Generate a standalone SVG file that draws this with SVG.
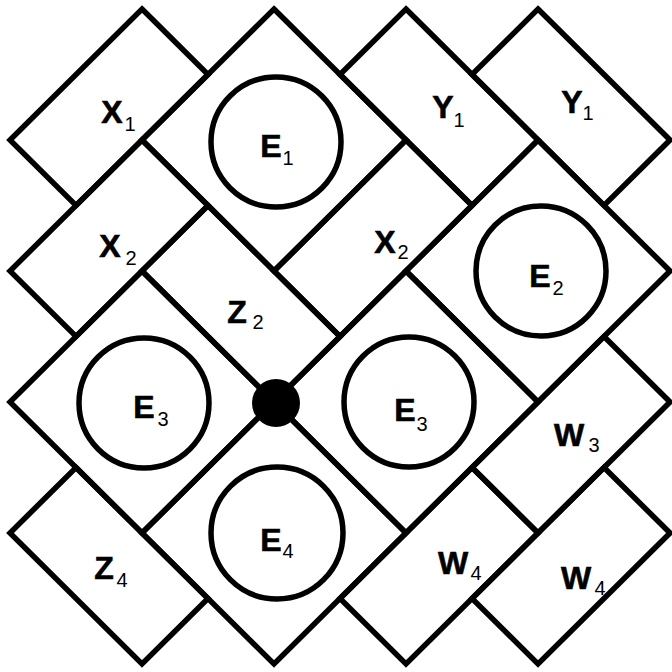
<svg xmlns="http://www.w3.org/2000/svg" width="672" height="672" viewBox="0 0 672 672">
<style>
.t{fill:none;stroke:#000;stroke-width:5.5;stroke-linejoin:miter}
.c{fill:none;stroke:#000;stroke-width:5.5}
.L{font-family:"Liberation Sans",Arial,sans-serif;font-weight:bold;font-size:32px;fill:#000;stroke:#000;stroke-width:0.6;text-anchor:middle}
.s{font-family:"Liberation Sans",Arial,sans-serif;font-size:20px;fill:#000;text-anchor:middle}
</style>
<rect width="672" height="672" fill="#fff"/>
<g id="X1"><polygon class="t" points="142,9 208,74.5 76,205.5 10,140"/><text class="L" x="112" y="123">X</text><text class="s" x="130" y="131">1</text></g>
<g id="E1"><polygon class="t" points="274,9 406,140 274,271 142,140"/><circle class="c" cx="276" cy="142" r="65"/><text class="L" x="271" y="157">E</text><text class="s" x="288" y="165">1</text></g>
<g id="Y1a"><polygon class="t" points="406,9 538,140 472,205.5 340,74.5"/><text class="L" x="443" y="118">Y</text><text class="s" x="459" y="127">1</text></g>
<g id="Y1b"><polygon class="t" points="538,9 670,140 604,205.5 472,74.5"/><text class="L" x="572" y="113">Y</text><text class="s" x="588" y="120">1</text></g>
<g id="X2a"><polygon class="t" points="142,140 208,205.5 76,336.5 10,271"/><text class="L" x="110" y="257">X</text><text class="s" x="131" y="265">2</text></g>
<g id="X2b"><polygon class="t" points="406,140 472,205.5 340,336.5 274,271"/><text class="L" x="385" y="253">X</text><text class="s" x="403" y="259">2</text></g>
<g id="Z2"><polygon class="t" points="208,205.5 340,336.5 274,402 142,271"/><text class="L" x="237" y="323">Z</text><text class="s" x="258" y="329">2</text></g>
<g id="E2"><polygon class="t" points="538,140 670,271 538,402 406,271"/><circle class="c" cx="541" cy="271" r="65"/><text class="L" x="540" y="287">E</text><text class="s" x="558" y="295">2</text></g>
<g id="E3a"><polygon class="t" points="142,271 274,402 142,533 10,402"/><circle class="c" cx="144" cy="403" r="65"/><text class="L" x="144" y="418">E</text><text class="s" x="163" y="426">3</text></g>
<g id="E3b"><polygon class="t" points="406,271 538,402 406,533 274,402"/><circle class="c" cx="409" cy="402" r="65"/><text class="L" x="405" y="421">E</text><text class="s" x="422" y="431">3</text></g>
<g id="W3"><polygon class="t" points="604,336.5 670,402 538,533 472,467.5"/><text class="L" x="569" y="446">W</text><text class="s" x="594" y="452">3</text></g>
<g id="E4"><polygon class="t" points="274,402 406,533 274,664 142,533"/><circle class="c" cx="277" cy="533" r="66"/><text class="L" x="271" y="551">E</text><text class="s" x="288" y="558">4</text></g>
<g id="Z4"><polygon class="t" points="76,467.5 208,598.5 142,664 10,533"/><text class="L" x="104" y="579">Z</text><text class="s" x="122" y="587">4</text></g>
<g id="W4a"><polygon class="t" points="472,467.5 538,533 406,664 340,598.5"/><text class="L" x="453" y="574">W</text><text class="s" x="476" y="580">4</text></g>
<g id="W4b"><polygon class="t" points="604,467.5 670,533 538,664 472,598.5"/><text class="L" x="576" y="589">W</text><text class="s" x="600" y="595">4</text></g>
<g id="node"><circle cx="276" cy="403" r="24" fill="#000"/></g>
<g id="connectors"/>
</svg>
